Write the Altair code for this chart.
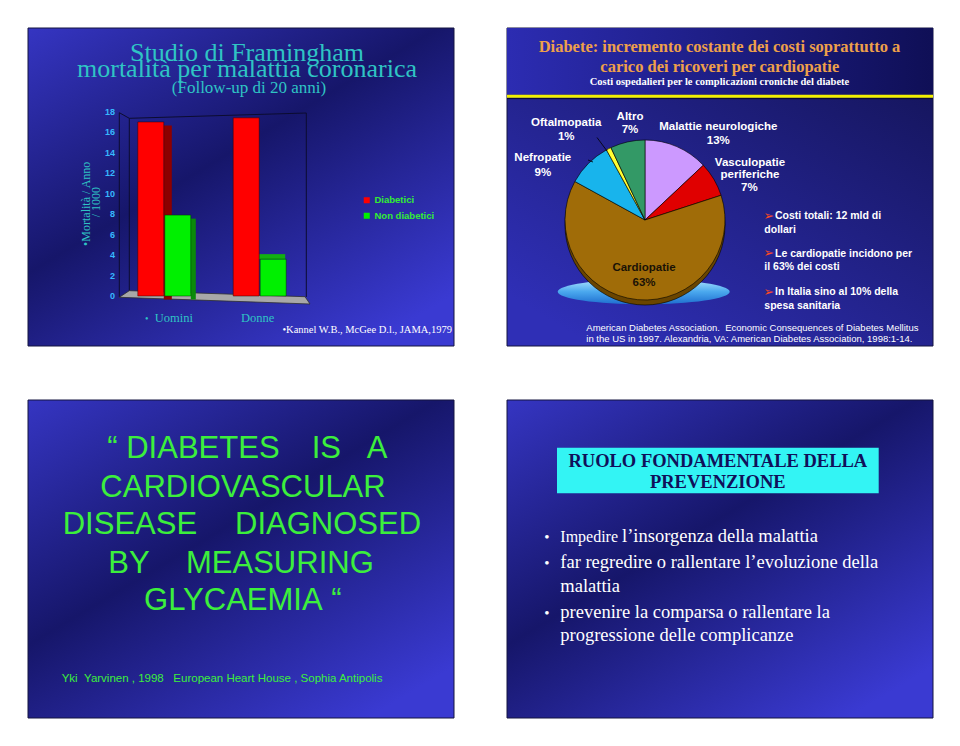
import altair as alt
import pandas as pd

# ---------------- data ----------------
# Slide 1: Framingham bar chart
groups = ["Uomini", "Donne"]
series = ["Diabetici", "Non diabetici"]
diabetici = [17.0, 17.4]
non_diabetici = [7.9, 3.6]
y_ticks = [0, 2, 4, 6, 8, 10, 12, 14, 16, 18]

# Slide 2: pie of hospital costs
pie_cats = ["Malattie neurologiche", "Vasculopatie periferiche", "Cardiopatie",
            "Nefropatie", "Oftalmopatia", "Altro"]
pie_vals = [13, 7, 63, 9, 1, 7]
pie_colors = ["#cc99ff", "#e00000", "#a06c08", "#18b4ec", "#ffff33", "#339966"]

bullets2 = [["Costi totali: 12 mld di", "dollari"],
            ["Le cardiopatie incidono per", "il 63% dei costi"],
            ["In Italia sino al 10% della", "spesa sanitaria"]]

SANS = "Liberation Sans"
SERIF = "Liberation Serif"
TEAL = "#2fc4c4"
GREEN3 = "#3cef3c"

ONE = pd.DataFrame({"z": [0]})


def T(s, x, y, size, color, font=SANS, weight="normal", align="left",
      baseline="alphabetic", angle=None):
    kw = dict(fontSize=size, color=color, font=font, fontWeight=weight,
              align=align, baseline=baseline)
    if angle is not None:
        kw["angle"] = angle
    return alt.Chart(ONE).mark_text(**kw).encode(
        x=alt.value(x), y=alt.value(y), text=alt.value(s))


def grad(stops, x1=0, y1=0, x2=0.8, y2=1):
    return alt.LinearGradient(
        gradient="linear",
        stops=[alt.GradientStop(offset=o, color=c) for o, c in stops],
        x1=x1, y1=y1, x2=x2, y2=y2)


def rect(x, x2, y, y2, color, stroke=None, sw=1):
    kw = dict(color=color)
    if stroke:
        kw.update(stroke=stroke, strokeWidth=sw)
    return alt.Chart(ONE).mark_rect(**kw).encode(
        x=alt.value(x), x2=alt.value(x2), y=alt.value(y), y2=alt.value(y2))


def seg(x, y, x2, y2, color="#0c0c30", w=1):
    return alt.Chart(ONE).mark_rule(color=color, strokeWidth=w).encode(
        x=alt.value(x), y=alt.value(y), x2=alt.value(x2), y2=alt.value(y2))


def shape(path, x, y, fill, stroke=None):
    kw = dict(shape=path, size=4, filled=True, fill=fill, opacity=1)
    if stroke:
        kw.update(stroke=stroke, strokeWidth=0.8)
    else:
        kw.update(strokeWidth=0)
    return alt.Chart(ONE).mark_point(**kw).encode(x=alt.value(x), y=alt.value(y))


layers = []

# ---------------- slide backgrounds ----------------
slide_grad = [(0, "#3535c2"), (0.47, "#16166a"), (1, "#3a3ad2")]
layers.append(rect(28, 454, 28, 346, grad(slide_grad), "#141440"))
layers.append(rect(28, 454, 400, 718, grad(slide_grad), "#141440"))
layers.append(rect(507, 933, 400, 718, grad(slide_grad), "#141440"))
layers.append(rect(507, 933, 28, 346,
                   grad([(0, "#121252"), (1, "#2f2fb6")], x1=1, y1=0, x2=0.2, y2=1),
                   "#141440"))
layers.append(rect(507, 933, 28, 94.5,
                   grad([(0, "#2c2cb2"), (1, "#0f0f56")], x1=0, y1=0, x2=1, y2=0)))
layers.append(seg(507, 96.3, 933, 96.3, "#f2f000", 3))
layers.append(seg(507, 98.6, 933, 98.6, "#0a0a30", 1))

# ---------------- slide 1: bar chart ----------------
bars_df = pd.DataFrame({
    "group": groups * 2,
    "series": [series[0]] * 2 + [series[1]] * 2,
    "value": diabetici + non_diabetici,
})
xs = alt.Scale(domain=groups, range=[116.6, 307.4], paddingInner=0, paddingOuter=0)
ys = alt.Scale(domain=[0, 18], range=[296, 111.7], nice=False)
cs = alt.Scale(domain=series, range=["#ff0000", "#00f000"])
X = alt.X("group:N", scale=xs, axis=None)
Y = alt.Y("value:Q", scale=ys, axis=None)

# back walls
layers.append(seg(119.3, 112.7, 119.3, 297))
layers.append(seg(119.3, 112.7, 129.3, 118.3))
layers.append(seg(129.3, 118.3, 129.3, 291))
layers.append(seg(129.3, 118.3, 306.3, 113))
layers.append(seg(306.3, 113, 306.3, 297))
# floor
layers.append(shape("M119.3,297.3L129.3,290.7L305,296.7L310,304Z", 0, 0, "#a8a8a8", "#303030"))

# side faces (Uomini) and top face (Donne, non diabetici)
layers.append(alt.Chart(bars_df).transform_filter(
    (alt.datum.series == series[0]) & (alt.datum.group == groups[0])
).mark_bar(width=8, xOffset=3.5, yOffset=3.5, color="#8c0000").encode(x=X, y=Y))
layers.append(alt.Chart(bars_df).transform_filter(
    (alt.datum.series == series[1]) & (alt.datum.group == groups[0])
).mark_bar(width=5, xOffset=29, yOffset=3.5, color="#0a8a0a").encode(x=X, y=Y))
layers.append(alt.Chart(bars_df).transform_filter(
    (alt.datum.series == series[1]) & (alt.datum.group == groups[1])
).mark_bar(width=27, xOffset=12, y2Offset=-5, color="#12b012").encode(
    x=X, y=Y, y2=alt.Y2("value:Q")))

# front faces
layers.append(alt.Chart(bars_df).transform_filter(alt.datum.series == series[0]).mark_bar(
    width=26, xOffset=-13.5, y2Offset=3, stroke="#300000", strokeWidth=0.5
).encode(x=X, y=Y, color=alt.Color("series:N", scale=cs, legend=alt.Legend(
    orient="none", legendX=362, legendY=195.5, title=None, symbolType="square",
    symbolSize=36, symbolStrokeWidth=0, labelFont=SANS, labelFontWeight="bold",
    labelFontSize=9.5, labelColor="#33ee33", rowPadding=4.5, labelOffset=3, padding=0))))
layers.append(alt.Chart(bars_df).transform_filter(alt.datum.series == series[1]).mark_bar(
    width=26, xOffset=13.5, y2Offset=3, stroke="#003000", strokeWidth=0.5
).encode(x=X, y=Y, color=alt.Color("series:N", scale=cs, legend=None)))

# tick labels through the y scale
layers.append(alt.Chart(pd.DataFrame({"value": y_ticks})).mark_text(
    align="right", baseline="middle", fontSize=9, fontWeight="bold", font=SANS,
    color="#36b8ff").encode(y=Y, x=alt.value(115), text=alt.Text("value:Q")))

# category labels through the x scale
grp_df = pd.DataFrame({"group": groups})
layers.append(alt.Chart(grp_df).transform_filter(alt.datum.group == groups[0]).mark_text(
    dx=9.5, fontSize=12.5, font=SERIF, color=TEAL, baseline="alphabetic").encode(
    x=X, y=alt.value(322.3), text="group:N"))
layers.append(alt.Chart(grp_df).transform_filter(alt.datum.group == groups[1]).mark_text(
    dx=-2, fontSize=12.5, font=SERIF, color=TEAL, baseline="alphabetic").encode(
    x=X, y=alt.value(322.3), text="group:N"))
layers.append(T("•", 145, 322.3, 10, TEAL, SERIF))

# titles
layers.append(T("Studio di Framingham", 247, 61, 26, TEAL, SERIF, align="center"))
layers.append(T("mortalità per malattia coronarica", 247, 77, 26, TEAL, SERIF, align="center"))
layers.append(T("(Follow-up di 20 anni)", 249, 92.5, 17, TEAL, SERIF, align="center"))
layers.append(T("•Mortalità / Anno", 86, 203.8, 12, TEAL, SERIF, align="center",
                baseline="middle", angle=270))
layers.append(T("/ 1000", 95.5, 202.2, 12, TEAL, SERIF, align="center",
                baseline="middle", angle=270))
layers.append(T("•Kannel W.B., McGee D.l., JAMA,1979", 452, 333, 10.5, "white", SERIF,
                align="right"))

# ---------------- slide 2: pie ----------------
layers.append(T("Diabete: incremento costante dei costi soprattutto a", 719.5, 52, 16.5,
                "#eea04a", SERIF, "bold", "center"))
layers.append(T("carico dei ricoveri per cardiopatie", 719.8, 72, 16.5, "#eea04a", SERIF,
                "bold", "center"))
layers.append(T("Costi ospedalieri per le complicazioni croniche del diabete", 719.5, 84.7,
                10.5, "white", SERIF, "bold", "center"))

ellipse = "M-86,0A86,12.5 0 1,0 86,0A86,12.5 0 1,0 -86,0Z"
layers.append(shape(ellipse, 643.7, 291.7,
                    grad([(0, "#aee4ff"), (0.5, "#4aa8ee"), (1, "#1f6fd0")],
                         x1=0, y1=0, x2=0, y2=1)))
layers.append(alt.Chart(ONE).mark_point(shape="circle", size=25600, filled=True,
                                        color="#6a4500", opacity=1, stroke="#000",
                                        strokeWidth=0.6).encode(
    x=alt.value(645), y=alt.value(225)))
pie_df = pd.DataFrame({"cat": pie_cats, "val": pie_vals})
layers.append(alt.Chart(pie_df).transform_window(k="row_number()").mark_arc(
    radius=80, stroke="#000000", strokeWidth=0.6).encode(
    theta=alt.Theta("val:Q", stack=True),
    order=alt.Order("k:Q"),
    color=alt.Color("cat:N", scale=alt.Scale(domain=pie_cats, range=pie_colors), legend=None),
    x=alt.value(645), y=alt.value(220)))
layers.append(seg(597, 137.5, 607, 151, "#000000", 0.8))
layers.append(seg(588, 160, 593, 162, "#000000", 0.8))

pl = dict(size=11.5, color="white", weight="bold", align="center", baseline="middle")
v = {c: f"{n}%" for c, n in zip(pie_cats, pie_vals)}
layers.append(T("Oftalmopatia", 566.2, 123.3, **pl))
layers.append(T(v["Oftalmopatia"], 566.2, 137.3, **pl))
layers.append(T("Altro", 630, 116.7, **pl))
layers.append(T(v["Altro"], 630, 130, **pl))
layers.append(T("Malattie neurologiche", 718.3, 127.3, **pl))
layers.append(T(v["Malattie neurologiche"], 718.3, 140.7, **pl))
layers.append(T("Vasculopatie", 750, 163.3, **pl))
layers.append(T("periferiche", 750, 174.8, **pl))
layers.append(T(v["Vasculopatie periferiche"], 749.3, 188.3, **pl))
layers.append(T("Nefropatie", 542.8, 158.3, **pl))
layers.append(T(v["Nefropatie"], 542.8, 173.3, **pl))
pl_dark = dict(pl, color="#1a1206")
layers.append(T("Cardiopatie", 644, 268.3, **pl_dark))
layers.append(T(v["Cardiopatie"], 644, 283.3, **pl_dark))

for (l1, l2), yb in zip(bullets2, [219.3, 256.7, 295]):
    layers.append(T("➢", 763.5, yb + 0.5, 12.5, "#ff4a22", "DejaVu Sans"))
    layers.append(T(l1, 775, yb, 10.5, "white", SANS, "bold"))
    layers.append(T(l2, 764.3, yb + 13.5, 10.5, "white", SANS, "bold"))

layers.append(T("American Diabetes Association.\u00a0 Economic Consequences of Diabetes Mellitus",
                586.3, 330.5, 9.5, "white"))
layers.append(T("in the US in 1997. Alexandria, VA: American Diabetes Association, 1998:1-14.",
                586.3, 342, 9.5, "white"))

# ---------------- slide 3: quote ----------------
q = dict(size=31, color=GREEN3)
layers.append(T("“\u00a0DIABETES", 107.3, 458.3, **q))
layers.append(T("IS", 311.7, 458.3, **q))
layers.append(T("A", 366.7, 458.3, **q))
layers.append(T("CARDIOVASCULAR", 243, 496.7, align="center", **q))
layers.append(T("DISEASE", 62.7, 534.3, **q))
layers.append(T("DIAGNOSED", 235, 534.3, **q))
layers.append(T("BY", 108.3, 572.7, **q))
layers.append(T("MEASURING", 186, 572.7, **q))
layers.append(T("GLYCAEMIA\u00a0“", 242.8, 610, align="center", **q))
layers.append(T("Yki\u00a0\u00a0Yarvinen , 1998\u00a0\u00a0\u00a0European Heart House , Sophia Antipolis",
                61.7, 682.3, 11.5, GREEN3))

# ---------------- slide 4: prevention ----------------
layers.append(rect(557, 878.7, 447.7, 493.3, "#33f4f4"))
layers.append(T("RUOLO FONDAMENTALE DELLA", 717.8, 466.7, 18.5, "#10105a", SERIF, "bold", "center"))
layers.append(T("PREVENZIONE", 717.8, 488.3, 18.5, "#10105a", SERIF, "bold", "center"))
b = dict(size=18.5, color="white", font=SERIF)
for yb in [541.7, 568.3, 618.3]:
    layers.append(T("•", 544.3, yb, 15, "white", SERIF))
layers.append(T("Impedire", 560.3, 541.7, 16, "white", SERIF))
layers.append(T("l’insorgenza della malattia", 622, 541.7, **b))
layers.append(T("far regredire o rallentare l’evoluzione della", 560.3, 568.3, **b))
layers.append(T("malattia", 560.3, 591.7, **b))
layers.append(T("prevenire la comparsa o rallentare la", 560.3, 618.3, **b))
layers.append(T("progressione delle complicanze", 560.3, 640.7, **b))

chart = alt.layer(*layers).properties(
    width=960, height=746, padding=0, autosize="none", background="white"
).resolve_scale(color="independent").configure_view(stroke=None)

chart.save("out.html", embed_options={"renderer": "svg", "actions": False})
